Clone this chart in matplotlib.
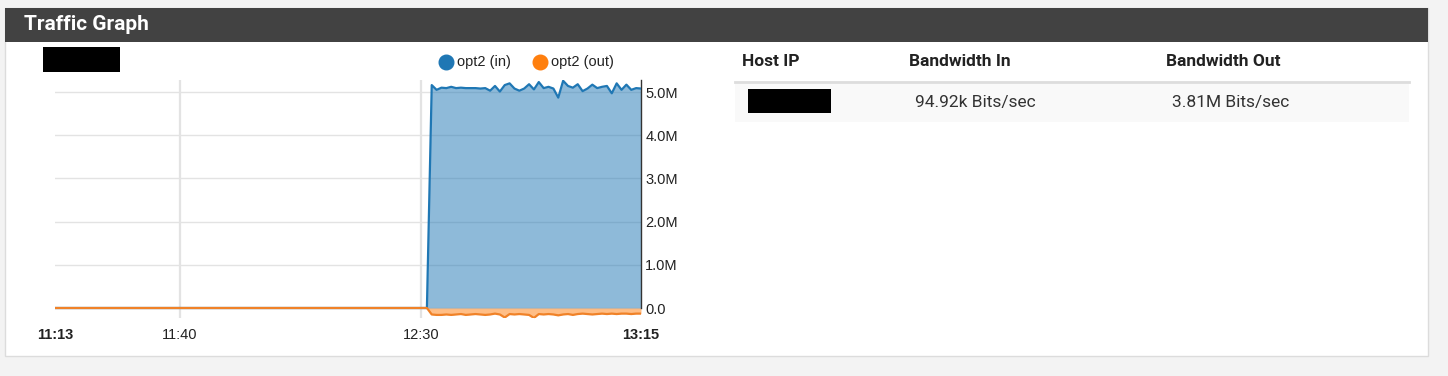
import matplotlib.pyplot as plt
import numpy as np
from matplotlib.patches import Rectangle
from matplotlib.lines import Line2D

W, H = 1448, 376

# chart data (minutes after 11:00, values in Mbit/s)
start_min = 14.07   # 11:13
jump_min = 91.2     # traffic starts just after 12:30
end_min = 135.6     # 13:15
active_times = np.linspace(92.2, end_min, 44)

in_values = [5.16, 5.05, 5.10, 5.09, 5.12, 5.09, 5.10, 5.09, 5.09, 5.09, 5.08,
             5.09, 5.03, 5.14, 5.01, 5.16, 5.20, 5.08, 5.03, 5.08, 5.18, 5.06,
             5.23, 5.09, 5.12, 5.08, 4.87, 5.26, 5.14, 5.10, 5.18, 5.02, 5.08,
             5.17, 5.09, 5.12, 5.14, 4.97, 5.20, 5.05, 5.17, 5.05, 5.09, 5.08]
out_values = [-0.15, -0.16, -0.16, -0.15, -0.16, -0.15, -0.14, -0.16, -0.15,
              -0.14, -0.15, -0.16, -0.15, -0.13, -0.15, -0.22, -0.14, -0.15,
              -0.14, -0.15, -0.16, -0.23, -0.14, -0.15, -0.14, -0.15, -0.17,
              -0.15, -0.14, -0.16, -0.14, -0.13, -0.14, -0.15, -0.14, -0.13,
              -0.14, -0.13, -0.14, -0.13, -0.13, -0.14, -0.13, -0.13]

y_ticks = [0, 1, 2, 3, 4, 5]
y_labels = ['0.0', '1.0M', '2.0M', '3.0M', '4.0M', '5.0M']
x_ticks = [start_min, 40, 90, end_min]
x_labels = ['11:13', '11:40', '12:30', '13:15']

table_headers = ['Host IP', 'Bandwidth In', 'Bandwidth Out']
table_row = ['', '94.92k Bits/sec', '3.81M Bits/sec']

series_names = ['opt2 (in)', 'opt2 (out)']
blue = '#1f77b4'
orange = '#ff7f0e'


def fx(x):
    return x / W


def fy(y):
    return 1 - y / H


def px_rect(x0, y0, x1, y1, **kw):
    return Rectangle((fx(x0), fy(y1)), (x1 - x0) / W, (y1 - y0) / H,
                     transform=fig.transFigure, **kw)


fig = plt.figure(figsize=(W / 100, H / 100), dpi=100)
fig.patch.set_facecolor('#f3f3f3')

# panel + header
fig.add_artist(px_rect(5, 8, 1428, 356, facecolor='white', edgecolor='#dcdcdc',
                       lw=1, zorder=-2))
fig.add_artist(px_rect(5, 8, 1428, 42, facecolor='#424242', edgecolor='none', zorder=-1))
fig.text(fx(24), fy(25), 'Traffic Graph', color='white', family='Roboto',
         weight='bold', fontsize=15, va='center', ha='left')

# redacted label above chart
fig.add_artist(px_rect(43, 47, 120, 72, facecolor='black', edgecolor='none'))

# legend
for cx, name, col in [(446, series_names[0], blue), (540, series_names[1], orange)]:
    fig.add_artist(Line2D([fx(cx)], [fy(62)], marker='o', ms=10.5, color=col,
                          transform=fig.transFigure))
    fig.text(fx(cx + 11), fy(62), name, family='Liberation Sans', fontsize=10.5,
             va='center', ha='left', color='#222222')

# chart
y_bottom = -10 / 43.2
y_top = 5 + 12 / 43.2
ax = fig.add_axes([fx(55), fy(318), (641 - 55) / W, (318 - 80) / H])
ax.set_zorder(5)
ax.set_facecolor('none')
ax.set_xlim(start_min, end_min)
ax.set_ylim(y_bottom, y_top)

for v in y_ticks:
    ax.axhline(v, color='#e3e3e3', lw=1, zorder=0)
for v in [40, 90]:
    ax.axvline(v, color='#e3e3e3', lw=1.6, zorder=0)

t_in = np.concatenate([[start_min, jump_min], active_times])
v_in = np.concatenate([[0, 0], in_values])
v_out = np.concatenate([[0, 0], out_values])

ax.fill_between(t_in, 0, v_in, color=blue, alpha=0.5, lw=0, zorder=2)
ax.plot(t_in, v_in, color=blue, lw=1.6, zorder=3)
ax.fill_between(t_in, 0, v_out, color=orange, alpha=0.5, lw=0, zorder=2)
ax.plot(t_in, v_out, color='#f08228', lw=1.6, zorder=4)

for s in ['left', 'top', 'bottom']:
    ax.spines[s].set_visible(False)
ax.spines['right'].set_bounds(0, y_top)
ax.spines['right'].set_color('#333333')
ax.spines['right'].set_linewidth(1)

ax.yaxis.tick_right()
ax.set_yticks(y_ticks)
ax.set_yticklabels(y_labels, family='Liberation Sans', fontsize=10.5, color='#222222')
ax.tick_params(axis='y', length=0, pad=3)
ax.set_xticks(x_ticks)
ax.set_xticklabels(x_labels, family='Liberation Sans', fontsize=10.5, color='#222222')
ax.tick_params(axis='x', length=0, pad=7)
for i in (0, 3):
    ax.get_xticklabels()[i].set_fontweight('bold')

# host table
for x, txt in zip([742, 909, 1166], table_headers):
    fig.text(fx(x), fy(62), txt, family='Roboto', weight='bold', fontsize=12.5,
             va='center', ha='left', color='#222222')
fig.add_artist(px_rect(735, 83, 1409, 122, facecolor='#f9f9f9', edgecolor='none',
                       zorder=-1))
fig.add_artist(Line2D([fx(735), fx(1409)], [fy(81.5), fy(81.5)], color='#dddddd',
                      lw=2, transform=fig.transFigure))
fig.add_artist(px_rect(748, 89, 831, 113, facecolor='black', edgecolor='none'))
for x, txt in zip([915, 1172], table_row[1:]):
    fig.text(fx(x), fy(103), txt, family='Roboto', fontsize=12.5,
             va='center', ha='left', color='#333333')

fig.savefig('out.png', dpi=100, facecolor=fig.get_facecolor())
